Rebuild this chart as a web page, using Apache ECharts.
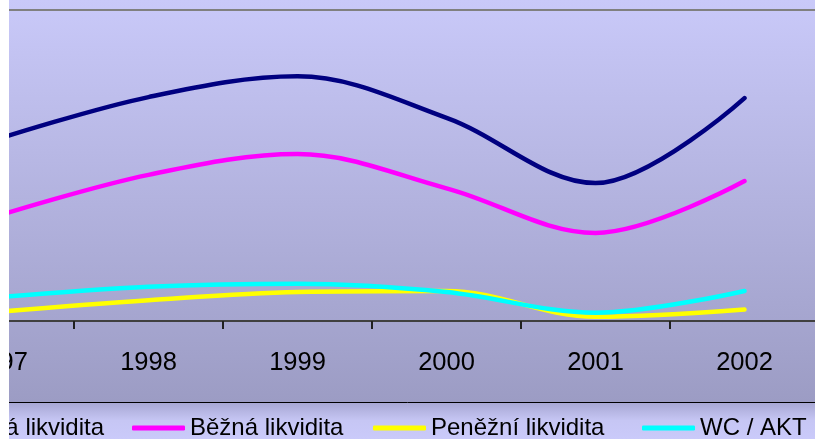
<!DOCTYPE html>
<html>
<head>
<meta charset="utf-8">
<script src="https://cdn.jsdelivr.net/npm/echarts@6/dist/echarts.min.js"></script>
<style>
  html, body { margin: 0; padding: 0; background: #fff; }
  #chart { width: 815px; height: 439px; }
</style>
</head>
<body>
<div id="chart"></div>
<script>
  // roky a hodnoty ukazatelů likvidity
  var years = ['1997', '1998', '1999', '2000', '2001', '2002'];
  var celkova = [1.76, 2.16, 2.36, 1.96, 1.33, 2.15];
  var bezna = [1.02, 1.41, 1.61, 1.28, 0.85, 1.35];
  var penezni = [0.09, 0.20, 0.28, 0.29, 0.04, 0.11];
  var wcAkt = [0.23, 0.33, 0.36, 0.28, 0.08, 0.29];

  var font = "'Liberation Sans', Arial, sans-serif";

  var myChart = echarts.init(document.getElementById('chart'));

  function line (name, data, color) {
    return {
      name: name,
      type: 'line',
      data: data,
      smooth: 0.35,
      showSymbol: false,
      symbol: 'none',
      color: color,
      lineStyle: { width: 4.5, color: color, cap: 'round', join: 'round' }
    };
  }

  function legendItem (name, left) {
    return {
      data: [name],
      left: left,
      top: 411,
      icon: 'roundRect',
      itemWidth: 53,
      itemHeight: 5,
      selectedMode: false,
      textStyle: { fontSize: 24, color: '#000', fontFamily: font }
    };
  }

  var option = {
    animation: false,
    graphic: [
      // pozadí grafu
      {
        type: 'rect', z: -10, silent: true,
        shape: { x: 0, y: 0, width: 815, height: 402 },
        style: {
          fill: new echarts.graphic.LinearGradient(0, 0, 0, 1, [
            { offset: 0, color: '#c9c9f9' },
            { offset: 1, color: '#9c9cc4' }
          ])
        }
      },
      // pozadí legendy
      {
        type: 'rect', z: -10, silent: true,
        shape: { x: 0, y: 402, width: 815, height: 37 },
        style: {
          fill: new echarts.graphic.LinearGradient(0, 0, 0, 1, [
            { offset: 0, color: '#a6a6d2' },
            { offset: 0.5, color: '#c6c6f4' },
            { offset: 1, color: '#cacafa' }
          ])
        }
      },
      {
        type: 'line', z: -5, silent: true,
        shape: { x1: 0, y1: 402.5, x2: 815, y2: 402.5 },
        style: { stroke: '#000', lineWidth: 1 }
      },
      // bílý okraj vlevo
      {
        type: 'rect', z: 1000, silent: true,
        shape: { x: 0, y: 0, width: 9, height: 439 },
        style: { fill: '#fff' }
      }
    ],
    grid: { left: -75, top: 10, width: 894, height: 311, outerBoundsMode: 'none', containLabel: false },
    legend: [
      legendItem('Celková likvidita', -131),
      legendItem('Běžná likvidita', 127),
      legendItem('Peněžní likvidita', 368),
      legendItem('WC / AKT', 637)
    ],
    xAxis: {
      type: 'category',
      data: years,
      boundaryGap: true,
      axisLine: { lineStyle: { color: '#404040', width: 2 } },
      axisTick: { show: true, length: 8, lineStyle: { color: '#202020', width: 2 } },
      axisLabel: { fontSize: 25.5, color: '#000', fontFamily: font, margin: 29 },
      splitLine: { show: false }
    },
    yAxis: {
      type: 'value',
      min: 0,
      max: 3,
      interval: 3,
      axisLine: { show: false },
      axisTick: { show: false },
      axisLabel: { show: false },
      splitLine: { lineStyle: { color: '#808080', width: 2 } }
    },
    series: [
      line('Celková likvidita', celkova, '#000080'),
      line('Běžná likvidita', bezna, '#ff00ff'),
      line('Peněžní likvidita', penezni, '#ffff00'),
      line('WC / AKT', wcAkt, '#00ffff')
    ]
  };

  myChart.setOption(option);
</script>
</body>
</html>
